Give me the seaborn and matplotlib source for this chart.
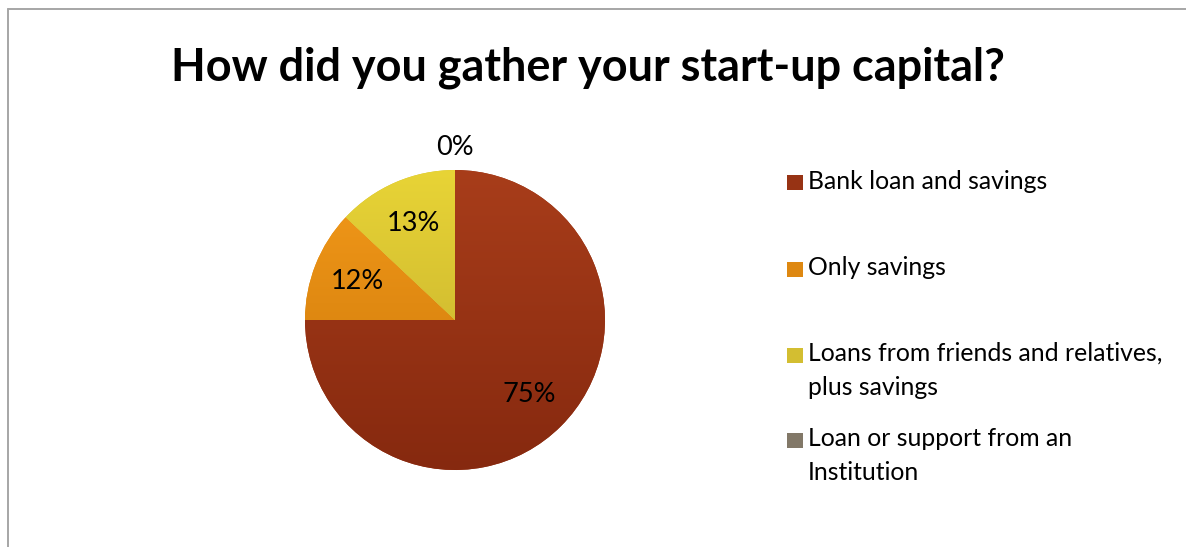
import numpy as np
import matplotlib
matplotlib.use("Agg")
import matplotlib.pyplot as plt
import matplotlib.colors as mcolors
from matplotlib.patches import Rectangle
from matplotlib.lines import Line2D
import seaborn as sns

# Survey answers and their shares (percent)
categories = [
    "Bank loan and savings",
    "Only savings",
    "Loans from friends and relatives,\nplus savings",
    "Loan or support from an\nInstitution",
]
shares = [75, 12, 13, 0]
title = "How did you gather your start-up capital?"

# Top / bottom shades for each slice (vertical gradient)
top_colors = ["#a83d1a", "#f49a1a", "#e8d436", "#8e8474"]
bottom_colors = ["#86290f", "#c97608", "#bfa92c", "#776d5d"]

sns.set_theme(style="white")
plt.rcParams["font.family"] = ["Lato", "DejaVu Sans"]
palette = sns.color_palette(
    [mcolors.to_hex(0.5 * np.array(mcolors.to_rgb(t)) + 0.5 * np.array(mcolors.to_rgb(b)))
     for t, b in zip(top_colors, bottom_colors)]
)

W, H = 1186, 547
fig = plt.figure(figsize=(W / 100, H / 100), dpi=100)
fig.patch.set_facecolor("white")

# Chart frame (top and left edges visible)
fig.add_artist(Line2D([8 / W, 8 / W], [0, 1 - 9 / H], color="#a6a6a6", lw=1.4,
                      transform=fig.transFigure))
fig.add_artist(Line2D([8 / W, 1], [1 - 9 / H, 1 - 9 / H], color="#a6a6a6", lw=1.4,
                      transform=fig.transFigure))

fig.text(588 / W, 1 - 68 / H, title, ha="center", va="center",
         fontsize=32.4, fontweight="bold", color="black")

# Pie axes: radius 1 == 150 px, centred at (455, 320)
cx, cy, r = 455, 320, 150
ax = fig.add_axes([(cx - r) / W, 1 - (cy + r) / H, 2 * r / W, 2 * r / H])

wedges, texts, autotexts = ax.pie(
    shares, colors=palette, startangle=90, counterclock=False, radius=1,
    autopct=lambda p: f"{p:.0f}%", pctdistance=0.7,
    wedgeprops=dict(linewidth=0),
    textprops=dict(fontsize=19.5, color="black"),
)

# Vertical gradient fill clipped to each wedge
for w, ct, cb in zip(wedges, top_colors, bottom_colors):
    cmap = mcolors.LinearSegmentedColormap.from_list("g", [cb, ct])
    grad = np.linspace(0, 1, 256).reshape(-1, 1)
    im = ax.imshow(grad, cmap=cmap, extent=[-1, 1, -1, 1], origin="lower",
                   aspect="auto", zorder=w.get_zorder() + 0.1)
    im.set_clip_path(w)

# Labels of empty slices sit just outside the rim
for w, t, v in zip(wedges, autotexts, shares):
    t.set_zorder(5)
    if v == 0:
        ang = np.deg2rad(0.5 * (w.theta1 + w.theta2))
        t.set_position((1.15 * np.cos(ang), 1.15 * np.sin(ang)))

ax.set_xlim(-1, 1)
ax.set_ylim(-1, 1)
ax.set_aspect("equal")
ax.axis("off")

# Legend: squares with labels, first lines at fixed rows
rows = [183, 269, 355, 440]
for lab, c, y in zip(categories, palette, rows):
    fig.add_artist(Rectangle((787 / W, 1 - (y + 7.5) / H), 16 / W, 15 / H,
                             facecolor=c, edgecolor="none", transform=fig.transFigure))
    fig.text(808 / W, 1 - (y - 13) / H, lab, ha="left", va="top",
             fontsize=17.8, color="black", linespacing=1.6)

fig.savefig("out.png", dpi=100, facecolor="white")
